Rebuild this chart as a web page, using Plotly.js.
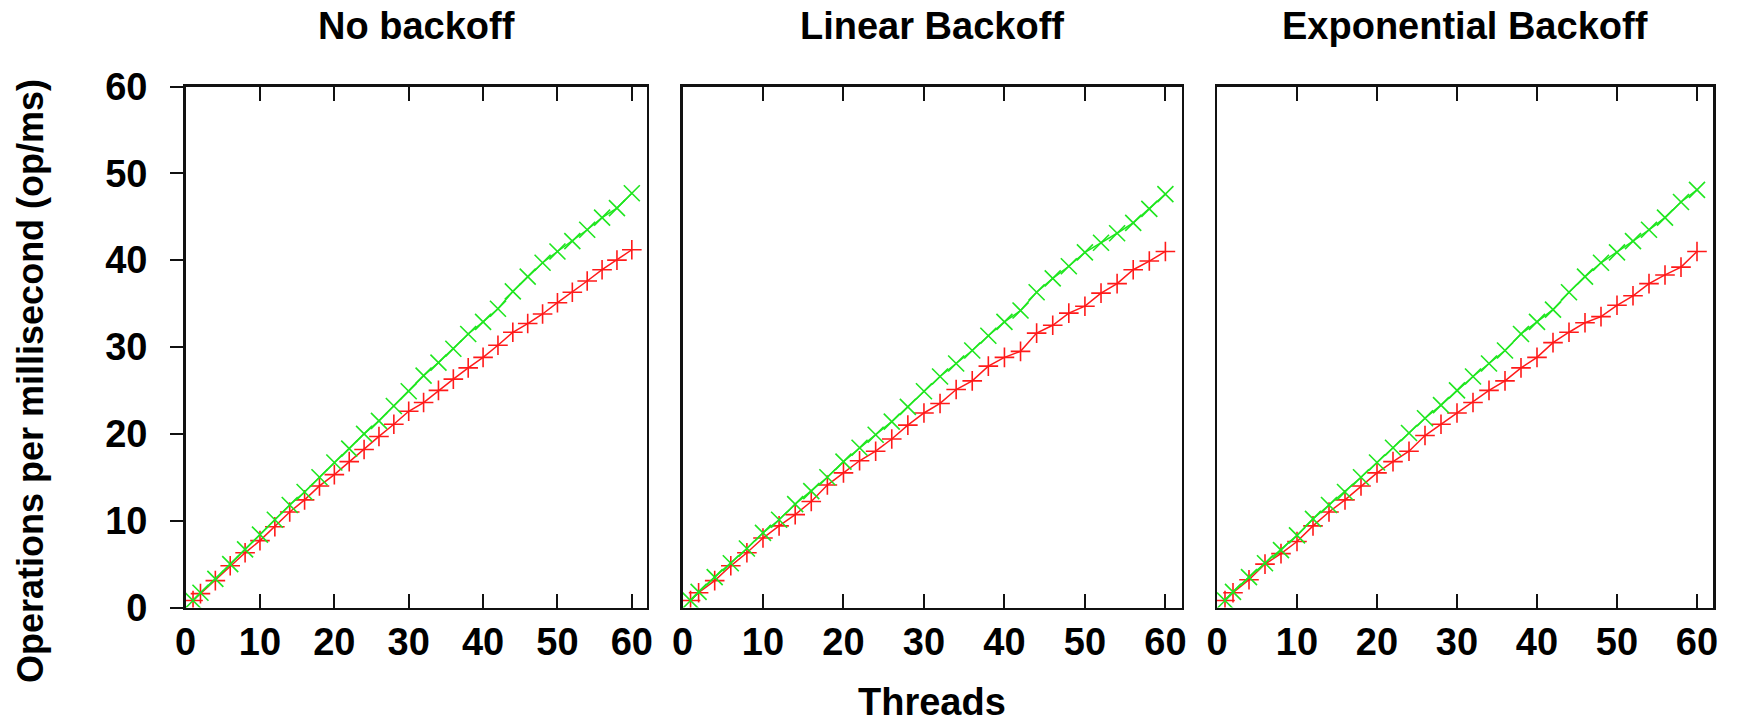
<!DOCTYPE html>
<html>
<head>
<meta charset="utf-8">
<script src="https://cdn.plot.ly/plotly-3.0.1.min.js"></script>
<style>
  html, body { margin: 0; padding: 0; background: #ffffff; }
  #chart { width: 1743px; height: 725px; }
</style>
</head>
<body>
<div id="chart"></div>
<script>
// Thread counts (x values)
const threads = [1, 2, 4, 6, 8, 10, 12, 14, 16, 18, 20, 22, 24, 26, 28, 30,
                 32, 34, 36, 38, 40, 42, 44, 46, 48, 50, 52, 54, 56, 58, 60];

// Panel titles
const panelTitles = ["No backoff", "Linear Backoff", "Exponential Backoff"];

// Tick values
const xTicks = [0, 10, 20, 30, 40, 50, 60];
const yTicks = [0, 10, 20, 30, 40, 50, 60];

// No backoff
const noRed   = [0.8, 1.6, 3.1, 4.8, 6.3, 7.7, 9.3, 11.0, 12.4, 14.0, 15.3, 16.8, 18.2, 19.7, 21.1, 22.6,
                 23.6, 25.0, 26.3, 27.6, 28.8, 30.2, 31.7, 32.7, 33.8, 35.1, 36.3, 37.6, 38.9, 40.0, 41.2];
const noGreen = [0.8, 1.7, 3.3, 5.0, 6.7, 8.4, 10.1, 11.8, 13.3, 15.0, 16.7, 18.3, 20.0, 21.5, 23.2, 24.9,
                 26.7, 28.2, 29.8, 31.5, 32.9, 34.4, 36.4, 38.1, 39.7, 41.0, 42.2, 43.5, 44.9, 46.0, 47.7];

// Linear backoff
const linRed   = [0.8, 1.7, 3.1, 4.8, 6.3, 8.0, 9.4, 10.7, 12.2, 14.1, 15.5, 16.9, 18.0, 19.4, 21.0, 22.4,
                  23.5, 25.1, 26.1, 27.8, 28.8, 29.5, 31.6, 32.5, 33.9, 34.7, 36.2, 37.3, 38.9, 39.9, 41.0];
const linGreen = [0.8, 1.8, 3.5, 5.1, 6.8, 8.6, 10.1, 11.9, 13.4, 15.0, 16.8, 18.4, 19.9, 21.4, 23.1, 24.9,
                  26.6, 28.1, 29.6, 31.3, 32.9, 34.2, 36.3, 37.9, 39.3, 40.9, 42.0, 43.1, 44.3, 45.9, 47.6];

// Exponential backoff
const expRed   = [0.8, 1.7, 3.2, 5.0, 6.2, 7.6, 9.4, 11.0, 12.4, 14.0, 15.5, 16.8, 18.0, 19.8, 21.1, 22.4,
                  23.6, 25.0, 26.1, 27.6, 28.8, 30.5, 31.7, 32.8, 33.5, 34.8, 35.9, 37.3, 38.3, 39.2, 41.0];
const expGreen = [0.8, 1.8, 3.5, 5.1, 6.6, 8.3, 10.2, 11.8, 13.3, 15.0, 16.7, 18.4, 20.1, 21.8, 23.3, 25.0,
                  26.6, 28.1, 29.6, 31.5, 32.9, 34.3, 36.3, 38.1, 39.7, 40.9, 42.2, 43.5, 44.9, 46.7, 48.1];

const redSeries = [noRed, linRed, expRed];
const greenSeries = [noGreen, linGreen, expGreen];

const RED = '#ff1a1a';
const GREEN = '#1fe61f';
const FONT = 'Liberation Sans, Arial, Helvetica, sans-serif';

const traces = [];
for (let i = 0; i < 3; i++) {
  const xa = i === 0 ? 'x' : 'x' + (i + 1);
  const ya = i === 0 ? 'y' : 'y' + (i + 1);
  traces.push({
    x: threads, y: redSeries[i], xaxis: xa, yaxis: ya,
    type: 'scatter', mode: 'lines+markers', name: 'series 1',
    line: { color: RED, width: 1.5 },
    marker: { symbol: 'cross-thin', size: 14, color: RED, line: { color: RED, width: 1.6 } },
    cliponaxis: true
  });
  traces.push({
    x: threads, y: greenSeries[i], xaxis: xa, yaxis: ya,
    type: 'scatter', mode: 'lines+markers', name: 'series 2',
    line: { color: GREEN, width: 1.5 },
    marker: { symbol: 'x-thin', size: 16, color: GREEN, line: { color: GREEN, width: 1.6 } },
    cliponaxis: true
  });
}

const W = 1743, H = 725;
const xDomains = [
  [185.6 / W, 646.7 / W],
  [682.5 / W, 1181.5 / W],
  [1217 / W, 1713 / W]
];
const yDomain = [1 - 607.5 / H, 1 - 86.5 / H];

const tickFont = { family: FONT, size: 38, color: '#000', weight: 700 };

function xAxis(i) {
  return {
    domain: xDomains[i], range: [0, 62], anchor: i === 0 ? 'y' : 'y' + (i + 1),
    tickvals: xTicks, ticktext: xTicks.map(String),
    ticks: 'inside', ticklen: 14, tickwidth: 2, tickcolor: '#111',
    mirror: 'ticks', showline: true, linewidth: 2.5, linecolor: '#111',
    showgrid: false, zeroline: false,
    tickfont: tickFont, ticklabelstandoff: -1
  };
}
function yAxis(i) {
  const base = {
    domain: yDomain, range: [0, 60], anchor: i === 0 ? 'x' : 'x' + (i + 1),
    showline: true, linewidth: 2.5, linecolor: '#111', mirror: true,
    showgrid: false, zeroline: false
  };
  if (i === 0) {
    Object.assign(base, {
      tickvals: yTicks, ticktext: yTicks.map(String),
      ticks: 'outside', ticklen: 13, tickwidth: 2, tickcolor: '#111',
      tickfont: tickFont, ticklabelstandoff: 15
    });
  } else {
    Object.assign(base, { ticks: '', showticklabels: false });
  }
  return base;
}

const annotations = panelTitles.map((t, i) => ({
  text: '<b>' + t + '</b>', xref: 'paper', yref: 'paper',
  x: (xDomains[i][0] + xDomains[i][1]) / 2, y: 1 - 26 / H,
  xanchor: 'center', yanchor: 'middle', showarrow: false,
  font: { family: FONT, size: 38, color: '#000' }
}));
annotations.push({
  text: '<b>Threads</b>', xref: 'paper', yref: 'paper',
  x: 932 / W, y: 1 - 702 / H, xanchor: 'center', yanchor: 'middle', showarrow: false,
  font: { family: FONT, size: 38, color: '#000' }
});
annotations.push({
  text: '<b>Operations per millisecond (op/ms)</b>', xref: 'paper', yref: 'paper',
  x: 30 / W, y: 1 - 381 / H, xanchor: 'center', yanchor: 'middle', showarrow: false,
  textangle: -90,
  font: { family: FONT, size: 36, color: '#000' }
});

const layout = {
  width: W, height: H,
  margin: { l: 0, r: 0, t: 0, b: 0, pad: 0 },
  paper_bgcolor: '#ffffff', plot_bgcolor: '#ffffff',
  showlegend: false,
  xaxis: xAxis(0), xaxis2: xAxis(1), xaxis3: xAxis(2),
  yaxis: yAxis(0), yaxis2: yAxis(1), yaxis3: yAxis(2),
  annotations: annotations
};

Plotly.newPlot('chart', traces, layout, { displayModeBar: false, staticPlot: true });
</script>
</body>
</html>
